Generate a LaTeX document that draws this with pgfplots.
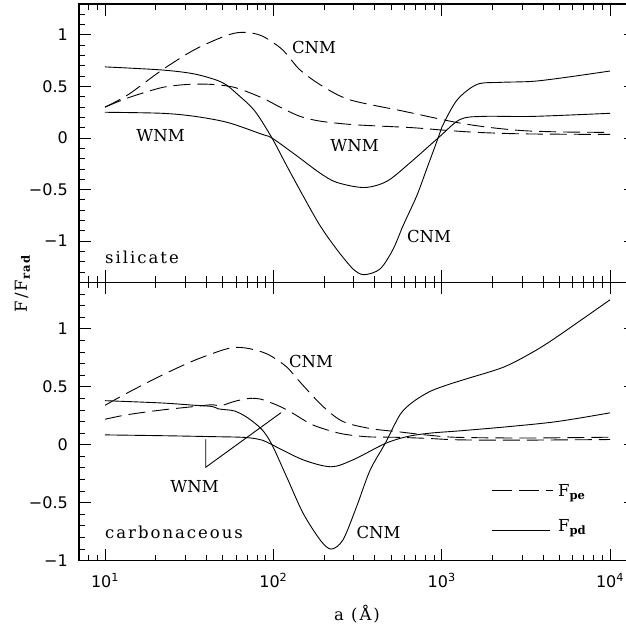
\documentclass[border=0pt]{standalone}
\usepackage{fontspec}
\setmainfont{DejaVu Serif}
\newfontfamily\tickfont{DejaVu Sans}
\newfontfamily\wideserif[LetterSpace=12]{DejaVu Serif}
\usepackage{pgfplots}
\pgfplotsset{compat=1.18}
\newcommand\lab{\fontsize{16.5}{19}\selectfont}
\newcommand\tk{\tickfont\fontsize{16}{18}\selectfont}
\begin{document}
\begin{tikzpicture}
% ---------------- top panel: silicate
\begin{axis}[scale only axis, width=557pt, height=278.4pt,
  at={(79pt,346.6pt)}, anchor=south west,
  xmode=log, xmin=7.008, xmax=14270,
  xtick={10,100,1000,10000}, xticklabels={},
  minor xtick={8,9,20,30,40,50,60,70,80,90,200,300,400,500,600,700,800,900,2000,3000,4000,5000,6000,7000,8000,9000},
  major tick length=12pt, minor tick length=6pt, tick align=inside,
  axis line style={line width=1.1pt},
  tick style={line width=0.9pt, black},
  ymin=-1.4, ymax=1.3,
  ytick={-1,-0.5,0,0.5,1},
  yticklabels={−1,−0.5,0,0.5,1},
  yticklabel style={font=\tk, inner sep=0pt, xshift=-11pt},
  minor ytick={-1.3,-1.2,-1.1,-0.9,-0.8,-0.7,-0.6,-0.4,-0.3,-0.2,-0.1,0.1,0.2,0.3,0.4,0.6,0.7,0.8,0.9,1.1,1.2}]
% CNM photoelectric
\addplot[black, line width=0.9pt, smooth, dash pattern=on 17pt off 7pt] coordinates {(10,0.30)(13.71,0.42)(21.83,0.66)(34.28,0.86)(53.83,1.00)(67.92,1.025)(85.70,0.99)(112.7,0.86)(144.2,0.66)(197.2,0.50)(285.8,0.37)(594.3,0.26)(1236,0.15)(1995,0.10)(3162,0.07)(5623,0.058)(10000,0.055)};
% WNM photoelectric
\addplot[black, line width=0.9pt, smooth, dash pattern=on 17pt off 7pt] coordinates {(10,0.30)(13.71,0.39)(21.83,0.49)(31.12,0.52)(43.25,0.52)(59.16,0.49)(85.70,0.39)(109.6,0.30)(144.2,0.21)(189.5,0.164)(285.8,0.132)(430.5,0.116)(676.1,0.10)(1019,0.077)(1622,0.055)(3162,0.04)(10000,0.035)};
% CNM photodesorption
\addplot[black, line width=0.9pt, smooth] coordinates {(10,0.69)(21.83,0.66)(34.28,0.62)(49.55,0.54)(61.66,0.42)(77.80,0.26)(98.17,0.0)(120.2,-0.27)(150.2,-0.56)(189.5,-0.85)(238.1,-1.08)(297.6,-1.27)(345.8,-1.325)(430.5,-1.27)(514.0,-1.08)(589.8,-0.85)(711.2,-0.56)(814.7,-0.30)(952,0.0)(1005,0.11)(1236,0.37)(1622,0.52)(2223,0.54)(3491,0.55)(5559,0.59)(10000,0.65)};
% WNM photodesorption
\addplot[black, line width=0.9pt, smooth] coordinates {(10,0.25)(21.83,0.24)(34.28,0.21)(53.83,0.15)(85.70,0.036)(98.17,0.0)(134.6,-0.16)(189.5,-0.34)(238.1,-0.43)(345.8,-0.48)(472.1,-0.42)(648.6,-0.24)(952,0.0)(1285,0.18)(1762,0.21)(3491,0.21)(10000,0.24)};
\end{axis}
% ---------------- bottom panel: carbonaceous
\begin{axis}[scale only axis, width=557pt, height=278.3pt,
  at={(79pt,68.3pt)}, anchor=south west,
  xmode=log, xmin=7.008, xmax=14270,
  xtick={10,100,1000,10000},
  xticklabels={10\textsuperscript{1},10\textsuperscript{2},10\textsuperscript{3},10\textsuperscript{4}},
  xticklabel style={font=\tk, inner sep=0pt, yshift=-12pt},
  minor xtick={8,9,20,30,40,50,60,70,80,90,200,300,400,500,600,700,800,900,2000,3000,4000,5000,6000,7000,8000,9000},
  major tick length=12pt, minor tick length=6pt, tick align=inside,
  axis line style={line width=1.1pt},
  tick style={line width=0.9pt, black},
  ymin=-1, ymax=1.4,
  ytick={-1,-0.5,0,0.5,1},
  yticklabels={−1,−0.5,0,0.5,1},
  yticklabel style={font=\tk, inner sep=0pt, xshift=-11pt},
  minor ytick={-0.9,-0.8,-0.7,-0.6,-0.4,-0.3,-0.2,-0.1,0.1,0.2,0.3,0.4,0.6,0.7,0.8,0.9,1.1,1.2,1.3}]
% CNM photoelectric
\addplot[black, line width=0.9pt, smooth, dash pattern=on 17pt off 7pt] coordinates {(10,0.34)(13.71,0.45)(21.83,0.60)(34.28,0.73)(53.83,0.83)(67.92,0.835)(85.7,0.80)(98.2,0.76)(120.2,0.67)(144.2,0.54)(197.2,0.33)(259.4,0.20)(375.9,0.14)(566.2,0.11)(814.7,0.084)(1230,0.064)(3162,0.058)(10000,0.065)};
% WNM photoelectric
\addplot[black, line width=0.9pt, smooth, dash pattern=on 17pt off 7pt] coordinates {(10,0.22)(13.71,0.26)(21.83,0.30)(34.28,0.33)(43.25,0.345)(48.2,0.335)(52.5,0.35)(59.16,0.375)(72.44,0.40)(85.7,0.39)(109.6,0.33)(130.9,0.27)(172.2,0.17)(248.9,0.098)(358.9,0.069)(540.8,0.064)(814.7,0.055)(1285,0.042)(3162,0.04)(10000,0.045)};
% CNM photodesorption
\addplot[black, line width=0.9pt, smooth] coordinates {(10,0.38)(21.83,0.36)(34.28,0.34)(43.25,0.33)(47,0.31)(49.55,0.305)(59.16,0.29)(70.79,0.23)(85.70,0.13)(98.17,0.0)(120.2,-0.28)(150.2,-0.59)(189.5,-0.82)(220.3,-0.90)(259.4,-0.82)(313.0,-0.53)(375.5,-0.22)(461.0,0.01)(566.2,0.26)(676.1,0.37)(853.1,0.46)(1100,0.52)(1416,0.57)(2340,0.67)(3491,0.80)(4831,0.93)(10000,1.25)};
% WNM photodesorption
\addplot[black, line width=0.9pt, smooth] coordinates {(10,0.085)(21.83,0.078)(43.25,0.07)(67.92,0.063)(85.70,0.04)(98.17,0.0)(150.2,-0.13)(220.3,-0.19)(297.6,-0.13)(461,0.01)(622.3,0.07)(853.1,0.10)(1285,0.12)(2449,0.155)(4853,0.20)(10000,0.275)};
\end{axis}
% ---------------- annotations (absolute positions)
\begin{scope}[every node/.style={inner sep=0pt}]
\node[anchor=base, font=\lab] at (314pt,575pt) {CNM};
\node[anchor=base, font=\lab] at (160.5pt,487.3pt) {WNM};
\node[anchor=base, font=\lab] at (354.5pt,477.3pt) {WNM};
\node[anchor=base, font=\lab] at (429pt,386.3pt) {CNM};
\node[anchor=base west, font=\wideserif\lab] at (105pt,365.7pt) {silicate};
\node[anchor=base, font=\lab] at (311pt,261.3pt) {CNM};
\node[anchor=base, font=\lab] at (194.5pt,136.7pt) {WNM};
\node[anchor=base, font=\lab] at (378.5pt,90.7pt) {CNM};
\node[anchor=base west, font=\wideserif\lab] at (105pt,90.7pt) {carbonaceous};
\draw[line width=0.9pt] (205.7pt,189.7pt) -- (205.7pt,161.7pt) -- (281pt,216.3pt);
% legend
\draw[line width=0.9pt, dash pattern=on 20pt off 7pt] (492pt,139pt) -- (553pt,139pt);
\draw[line width=0.9pt] (492pt,99pt) -- (550pt,99pt);
\node[anchor=base west, font=\lab] at (558pt,132.3pt) {F\textsubscript{\textbf{pe}}};
\node[anchor=base west, font=\lab] at (558pt,97pt) {F\textsubscript{\textbf{pd}}};
% axis labels
\node[anchor=base, font=\wideserif\lab] at (357pt,9pt) {a (Å)};
\node[anchor=base, rotate=90, font=\wideserif\lab] at (27pt,346pt) {F/F\textsubscript{\textbf{rad}}};
\end{scope}
\pgfresetboundingbox
\path[use as bounding box] (0pt,0pt) rectangle (626pt,629pt);
\end{tikzpicture}
\end{document}
